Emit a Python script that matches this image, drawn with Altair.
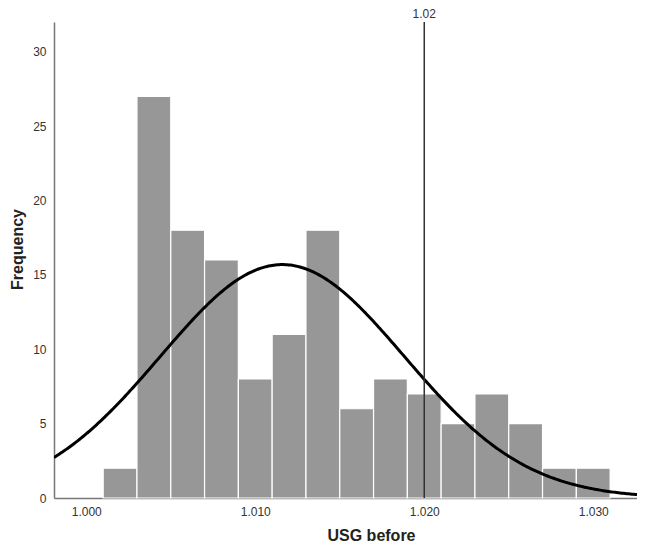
import altair as alt
import pandas as pd

# Histogram bins (centres) and counts
bin_centers = [1.002, 1.004, 1.006, 1.008, 1.010, 1.012, 1.014, 1.016,
               1.018, 1.020, 1.022, 1.024, 1.026, 1.028, 1.030]
counts = [2, 27, 18, 16, 8, 11, 18, 6, 8, 7, 5, 7, 5, 2, 2]
bin_width = 0.002

# Normal curve parameters
curve_mean = 1.0116
curve_sd = 0.00722
n_total = 142

ref_value = 1.02
ref_label = "1.02"
x_ticks = [1.000, 1.010, 1.020, 1.030]
y_ticks = [0, 5, 10, 15, 20, 25, 30]
x_domain = [0.99809, 1.03259]
y_domain = [0, 32]

FONT = "Liberation Sans"
PLOT_H = 476

df = pd.DataFrame({"center": bin_centers, "count": counts})

x_scale = alt.Scale(domain=x_domain, nice=False, zero=False)
y_scale = alt.Scale(domain=y_domain, nice=False)

x_axis = alt.Axis(values=x_ticks, format=".3f", grid=False, ticks=False,
                  labelPadding=8, labelFontSize=12, labelColor="#333333",
                  labelFont=FONT, domain=True, domainColor="#777777", domainWidth=1.5,
                  title="USG before", titleFont=FONT, titleFontSize=16,
                  titleFontWeight="bold", titleColor="#222222",
                  titleX=317, titleY=37, titleBaseline="middle",
                  titleAnchor="middle", titleAlign="center")
y_axis = alt.Axis(values=y_ticks, grid=False, ticks=False,
                  labelPadding=8, labelFontSize=12, labelColor="#333333",
                  labelFont=FONT, domain=True, domainColor="#777777", domainWidth=1.5,
                  title="Frequency", titleFont=FONT, titleFontSize=16,
                  titleFontWeight="bold", titleColor="#222222",
                  titleX=-37, titleY=227, titleAngle=-90,
                  titleBaseline="middle", titleAlign="center")

bars = alt.Chart(df).transform_calculate(
    x0=f"datum.center - {bin_width / 2}",
    x1=f"datum.center + {bin_width / 2}",
).mark_rect(color="#979797", stroke="white", strokeWidth=1.2).encode(
    x=alt.X("x0:Q", scale=x_scale, axis=x_axis),
    x2="x1:Q",
    y=alt.Y("count:Q", scale=y_scale, axis=y_axis),
    y2=alt.datum(0),
)

curve = alt.Chart(alt.sequence(x_domain[0], x_domain[1] + 0.00001, 0.0001, as_="xv")).transform_calculate(
    yv=f"{n_total} * {bin_width} * densityNormal(datum.xv, {curve_mean}, {curve_sd})"
).mark_line(color="black", strokeWidth=3, clip=True).encode(
    x=alt.X("xv:Q", scale=x_scale, axis=x_axis),
    y=alt.Y("yv:Q", scale=y_scale, axis=y_axis),
)

ref_df = pd.DataFrame({"v": [ref_value], "label": [ref_label]})
ref_line = alt.Chart(ref_df).mark_rule(color="#333333", strokeWidth=1.5).encode(
    x=alt.X("v:Q", scale=x_scale, axis=x_axis),
    y=alt.value(0),
    y2=alt.value(PLOT_H),
)
ref_text = alt.Chart(ref_df).mark_text(font=FONT, fontSize=12, color="#333333",
                                       baseline="middle", align="center").encode(
    x=alt.X("v:Q", scale=x_scale, axis=x_axis),
    y=alt.value(-8),
    text="label:N",
)

chart = alt.layer(bars, curve, ref_line, ref_text).properties(
    width=583, height=PLOT_H,
    background="white",
    autosize=alt.AutoSizeParams(type="none"),
    padding={"left": 46, "top": 14, "right": 0, "bottom": 47},
).configure_view(stroke=None)

chart.save("out.html", embed_options={"renderer": "svg", "actions": False})
